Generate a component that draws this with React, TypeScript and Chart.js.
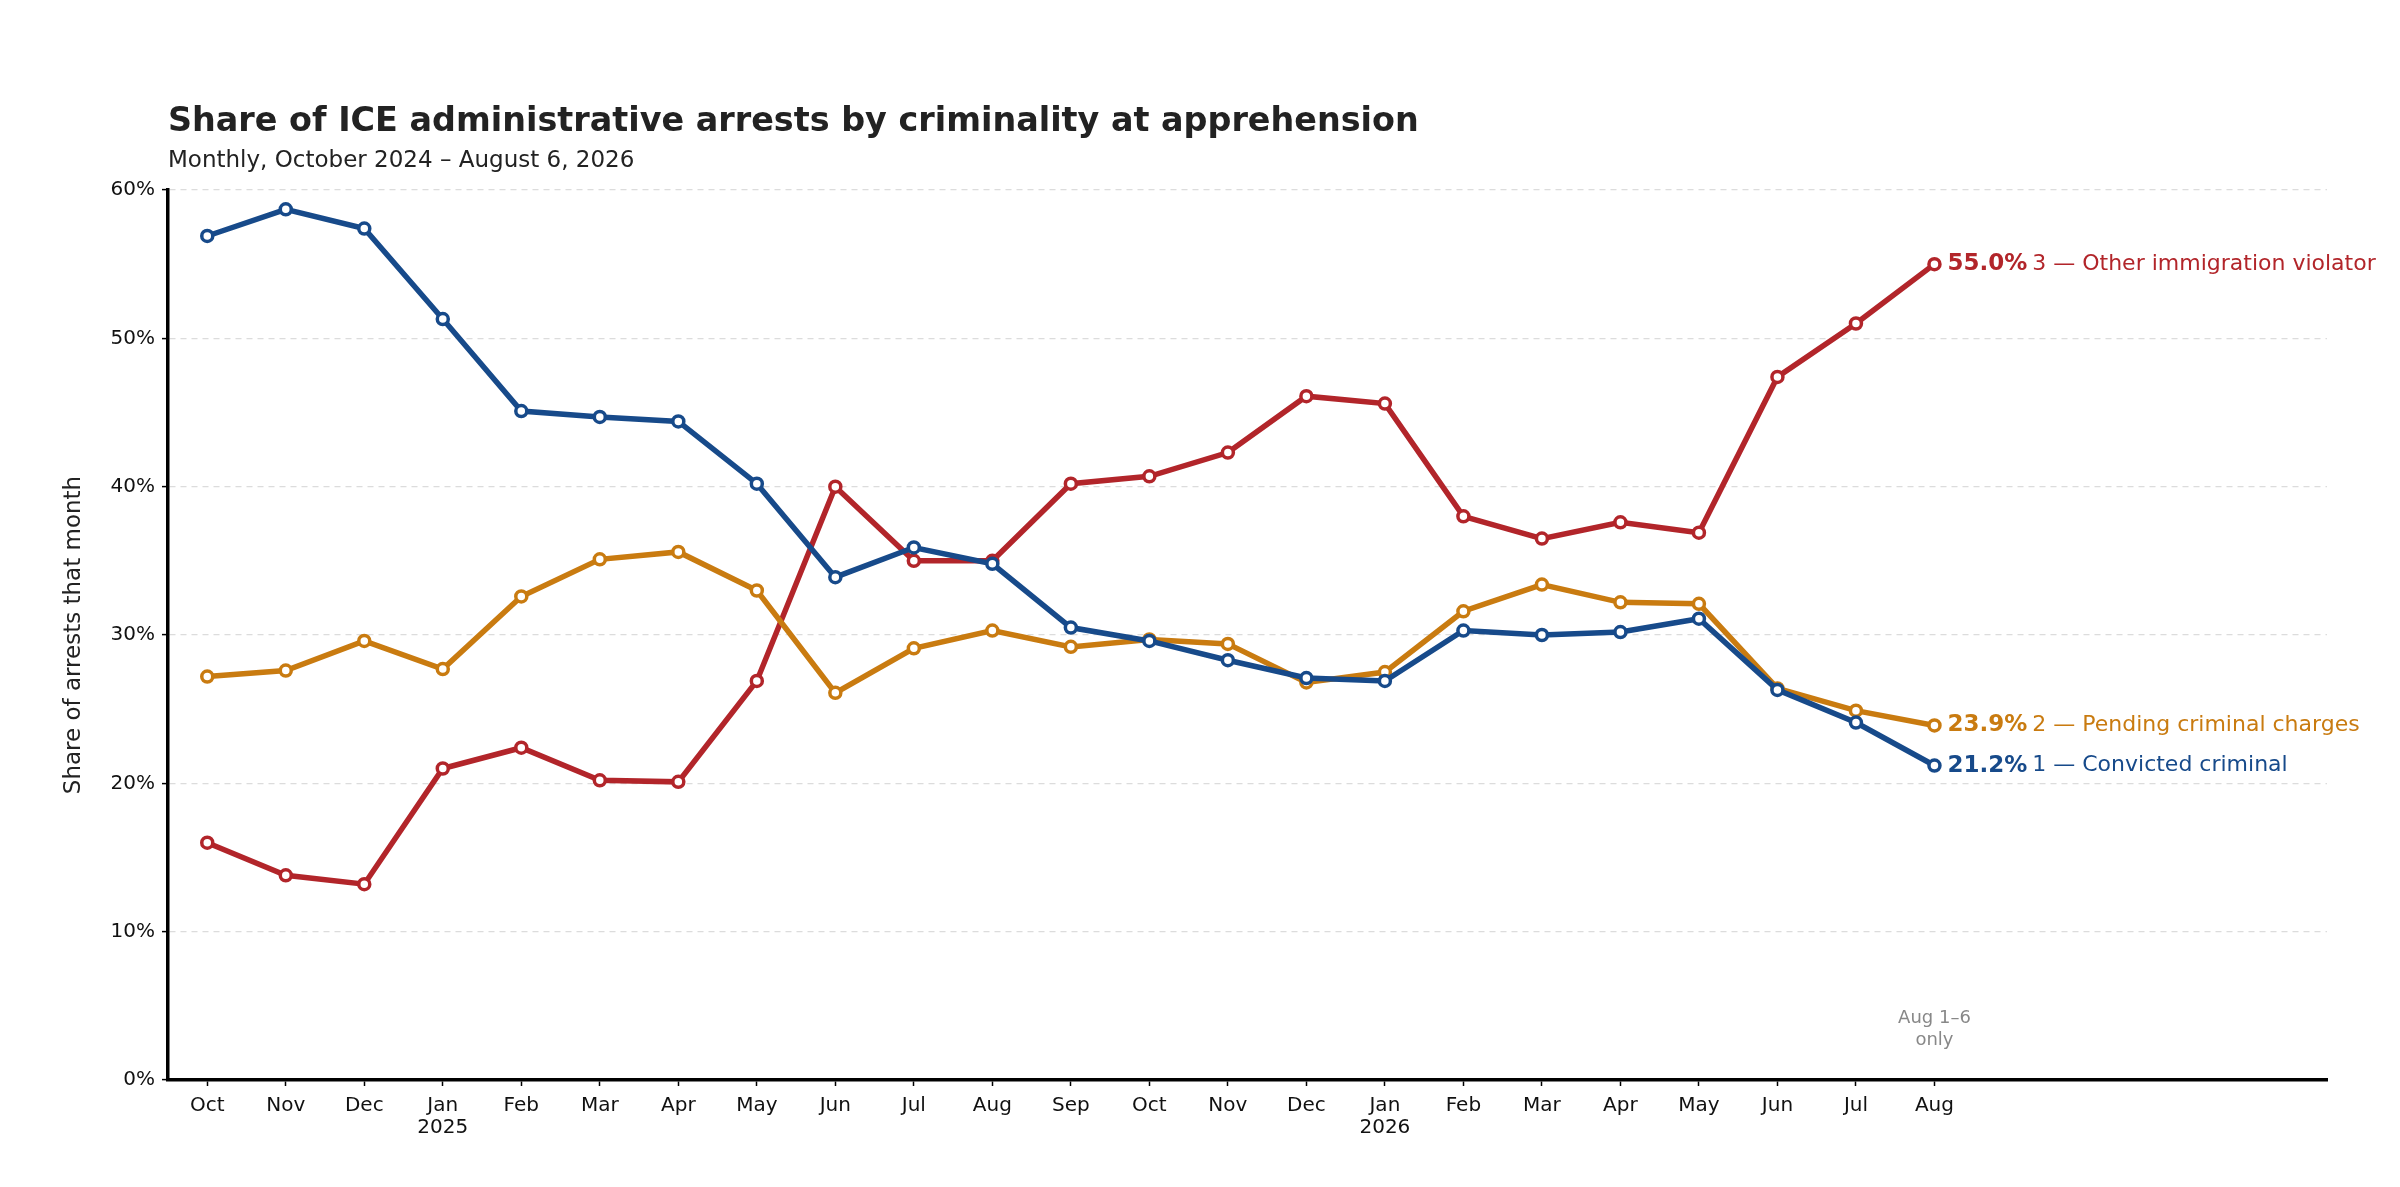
import React, { FC, useEffect, useRef } from 'react'
import Chart from 'chart.js/auto'

// months Oct 2024 .. Aug 2026
const months = [
  'Oct', 'Nov', 'Dec', 'Jan', 'Feb', 'Mar', 'Apr', 'May', 'Jun', 'Jul', 'Aug', 'Sep',
  'Oct', 'Nov', 'Dec', 'Jan', 'Feb', 'Mar', 'Apr', 'May', 'Jun', 'Jul', 'Aug',
]
const yearMarks: Record<number, string> = { 3: '2025', 15: '2026' }

const convicted = [
  56.9, 58.7, 57.4, 51.3, 45.1, 44.7, 44.4, 40.2, 33.9, 35.9, 34.8, 30.5,
  29.6, 28.3, 27.1, 26.9, 30.3, 30.0, 30.2, 31.1, 26.3, 24.1, 21.2,
]
const pending = [
  27.2, 27.6, 29.6, 27.7, 32.6, 35.1, 35.6, 33.0, 26.1, 29.1, 30.3, 29.2,
  29.7, 29.4, 26.8, 27.5, 31.6, 33.4, 32.2, 32.1, 26.4, 24.9, 23.9,
]
const otherViolator = [
  16.0, 13.8, 13.2, 21.0, 22.4, 20.2, 20.1, 26.9, 40.0, 35.0, 35.0, 40.2,
  40.7, 42.3, 46.1, 45.6, 38.0, 36.5, 37.6, 36.9, 47.4, 51.0, 55.0,
]

const seriesNames = ['1 — Convicted criminal', '2 — Pending criminal charges', '3 — Other immigration violator']
const seriesColors = ['#174a8a', '#c97b10', '#b2252a']

const FONT = "'DejaVu Sans', sans-serif"

const App: FC = () => {
  const canvasRef = useRef<HTMLCanvasElement>(null)
  const chartRef = useRef<Chart | null>(null)

  useEffect(() => {
    if (!canvasRef.current) return
    const ctx = canvasRef.current.getContext('2d')
    if (!ctx) return

    const series = [convicted, pending, otherViolator]

    const textPlugin = {
      id: 'texts',
      afterDraw(chart: any) {
        const c = chart.ctx as CanvasRenderingContext2D
        const area = chart.chartArea
        c.save()
        c.textBaseline = 'middle'
        c.textAlign = 'left'
        c.fillStyle = '#222'
        c.font = `bold 33.4px ${FONT}`
        c.fillText('Share of ICE administrative arrests by criminality at apprehension', area.left, 122)
        c.font = `23px ${FONT}`
        c.fillText('Monthly, October 2024 – August 6, 2026', area.left, 161)

        // y axis title
        c.save()
        c.translate(74, (area.top + area.bottom) / 2)
        c.rotate(-Math.PI / 2)
        c.textAlign = 'center'
        c.font = `23px ${FONT}`
        c.fillText('Share of arrests that month', 0, 0)
        c.restore()

        // end-of-line labels
        series.forEach((vals, i) => {
          const meta = chart.getDatasetMeta(i)
          const pt = meta.data[vals.length - 1]
          const x = pt.x + 13
          const y = pt.y
          c.fillStyle = seriesColors[i]
          c.font = `bold 23px ${FONT}`
          const valText = `${vals[vals.length - 1].toFixed(1)}%`
          c.fillText(valText, x, y)
          const w = c.measureText(valText).width
          c.font = `22px ${FONT}`
          c.fillText(seriesNames[i], x + w + 5, y)
        })

        // partial month note
        const xs = chart.scales.x
        const nx = xs.getPixelForValue(months.length - 1)
        c.fillStyle = '#888'
        c.textAlign = 'center'
        c.font = `18px ${FONT}`
        c.fillText('Aug 1–6', nx, 1018)
        c.fillText('only', nx, 1040)
        c.restore()
      },
    }

    chartRef.current = new Chart(ctx, {
      type: 'line',
      data: {
        datasets: series.map((vals, i) => ({
          label: seriesNames[i],
          data: vals.map((v, j) => ({ x: j, y: v })),
          borderColor: seriesColors[i],
          borderWidth: 5.5,
          pointRadius: 5.5,
          pointBorderWidth: 3.5,
          pointBackgroundColor: '#ffffff',
          pointBorderColor: seriesColors[i],
          tension: 0,
          clip: false as any,
        })),
      },
      options: {
        animation: false,
        responsive: false,
        events: [],
        layout: { padding: { left: 0, top: 190, right: 73, bottom: 0 } },
        plugins: {
          legend: { display: false },
          tooltip: { enabled: false },
          title: { display: false },
        },
        scales: {
          x: {
            type: 'linear',
            min: -0.5,
            max: 27,
            afterBuildTicks: (scale: any) => {
              scale.ticks = months.map((_, i) => ({ value: i }))
            },
            afterFit: (scale: any) => {
              scale.height = 107
            },
            grid: {
              display: true,
              drawOnChartArea: false,
              drawTicks: true,
              tickLength: 6,
              tickWidth: 1.5,
              tickColor: '#000',
            },
            border: { display: true, color: '#000', width: 3.5 },
            ticks: {
              autoSkip: false,
              maxRotation: 0,
              padding: 9,
              color: '#111',
              font: { family: FONT, size: 20, lineHeight: 1.1 },
              callback: (v: any) => {
                const i = Number(v)
                const m = months[i]
                if (m === undefined) return ''
                return yearMarks[i] ? [m, yearMarks[i]] : m
              },
            },
          },
          y: {
            type: 'linear',
            min: 0,
            max: 60,
            afterFit: (scale: any) => {
              scale.width = 168
            },
            grid: {
              color: '#dcdcdc',
              lineWidth: 1.2,
              drawTicks: true,
              tickLength: 6,
              tickWidth: 1.5,
              tickColor: '#000',
            },
            border: { display: true, color: '#000', width: 3.5, dash: [6, 5] },
            ticks: {
              stepSize: 10,
              padding: 7,
              color: '#111',
              font: { family: FONT, size: 20 },
              callback: (v: any) => `${v}%`,
            },
          },
        },
      },
      plugins: [textPlugin],
    } as any)

    return () => {
      if (chartRef.current) {
        chartRef.current.destroy()
        chartRef.current = null
      }
    }
  }, [])

  return (
    <div style={{ position: 'fixed', left: 0, top: 0, width: 2400, height: 1187, background: '#fff' }}>
      <canvas ref={canvasRef} width={2400} height={1187}></canvas>
    </div>
  )
}

export default App
